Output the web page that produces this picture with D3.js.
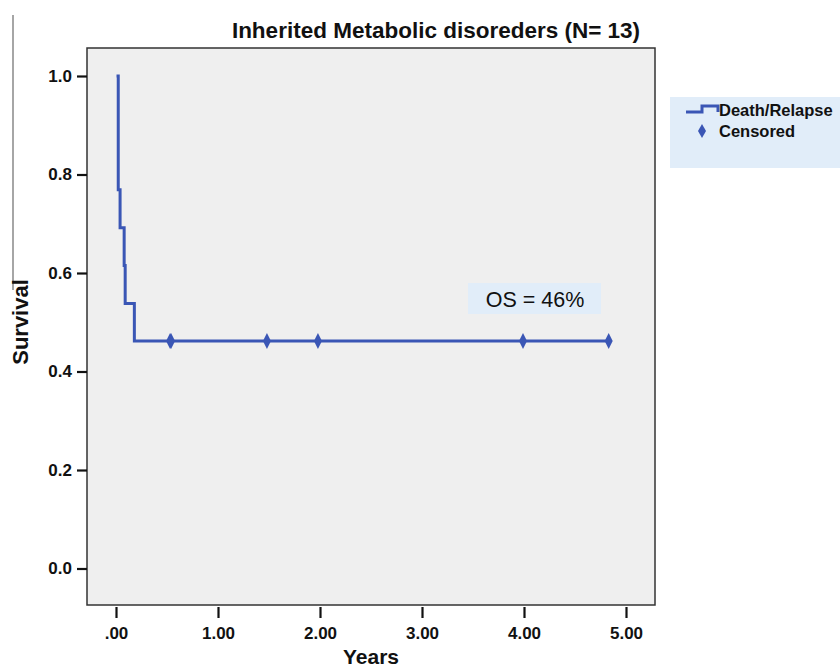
<!DOCTYPE html>
<html><head><meta charset="utf-8">
<script src="https://cdn.jsdelivr.net/npm/d3@7"></script>
<style>body{margin:0;background:#fff;} svg{display:block;font-family:"Liberation Sans",Arial,sans-serif;}</style>
</head><body>
<svg id="c" width="840" height="669"></svg>
<script>
// Kaplan-Meier steps (time in years, survival after event)
const eventTimes = [0, 0.022, 0.04, 0.08, 0.09, 0.18];
const survival   = [1.0, 0.769, 0.692, 0.615, 0.538, 0.462];
const censorTimes = [0.53, 0.54, 1.48, 1.98, 3.99, 4.83];
const xTicks = [0, 1, 2, 3, 4, 5];
const xTickLabels = [".00", "1.00", "2.00", "3.00", "4.00", "5.00"];
const yTicks = [0, 0.2, 0.4, 0.6, 0.8, 1.0];
const yTickLabels = ["0.0", "0.2", "0.4", "0.6", "0.8", "1.0"];
const titleText = "Inherited Metabolic disoreders (N= 13)";
const legendLabels = ["Death/Relapse", "Censored"];
const osLabel = "OS = 46%";

const svg = d3.select("#c");
const L = 87, R = 655, T = 48, B = 605;
const x = d3.scaleLinear().domain([0, 5]).range([116, 626]);
const y = d3.scaleLinear().domain([0, 1]).range([568.5, 76]);
const blue = "#3a56b5";
const ff = "Liberation Sans, Arial, sans-serif";

// left gray line
svg.append("line").attr("x1", 13).attr("x2", 13).attr("y1", 15).attr("y2", 290)
  .attr("stroke", "#888").attr("stroke-width", 1.5);

// plot frame
svg.append("rect").attr("x", L).attr("y", T).attr("width", R - L).attr("height", B - T)
  .attr("fill", "#efefef").attr("stroke", "#333").attr("stroke-width", 1.5);

// title
svg.append("text").attr("x", 436).attr("y", 38).attr("text-anchor", "middle")
  .attr("font-size", 22.5).attr("font-weight", "bold").attr("fill", "#111").text(titleText);

// y axis
const yAxis = d3.axisLeft(y).tickValues(yTicks).tickFormat((d, i) => yTickLabels[i]).tickSize(10).tickPadding(5);
const gy = svg.append("g").attr("transform", `translate(${L},0)`).call(yAxis);
gy.select(".domain").remove();
gy.selectAll(".tick line").attr("stroke", "#111").attr("stroke-width", 2.2);
gy.selectAll(".tick text").attr("font-size", 17).attr("font-weight", "bold").attr("fill", "#111")
  .attr("font-family", ff);

// x axis
const xAxis = d3.axisBottom(x).tickValues(xTicks).tickFormat((d, i) => xTickLabels[i]).tickSize(11).tickPadding(9);
const gx = svg.append("g").attr("transform", `translate(0,${B + 2})`).call(xAxis);
gx.select(".domain").remove();
gx.selectAll(".tick line").attr("stroke", "#111").attr("stroke-width", 2.2);
gx.selectAll(".tick text").attr("font-size", 17).attr("font-weight", "bold").attr("fill", "#111")
  .attr("font-family", ff);

// axis titles
svg.append("text").attr("x", 371).attr("y", 664).attr("text-anchor", "middle")
  .attr("font-size", 21).attr("font-weight", "bold").attr("fill", "#111").text("Years");
svg.append("text").attr("transform", "translate(28,322) rotate(-90)").attr("text-anchor", "middle")
  .attr("font-size", 22).attr("font-weight", "bold").attr("fill", "#111").text("Survival");

// KM step line
const pts = [];
const xStart = eventTimes[0] + 0.005;
pts.push([xStart, survival[0]]);
for (let i = 1; i < eventTimes.length; i++) {
  pts.push([eventTimes[i], survival[i - 1]]);
  pts.push([eventTimes[i], survival[i]]);
}
pts.push([d3.max(censorTimes), survival[survival.length - 1]]);
const line = d3.line().x(d => x(d[0])).y(d => y(d[1]));
svg.append("path").attr("d", line(pts)).attr("fill", "none").attr("stroke", blue).attr("stroke-width", 3);

// censored marks
const sAt = t => { let s = 1; eventTimes.forEach((e, i) => { if (e <= t) s = survival[i]; }); return s; };
svg.selectAll(".cens").data(censorTimes).enter().append("path").attr("class", "cens")
  .attr("d", "M0,-8 L4,0 L0,8 L-4,0 Z")
  .attr("transform", d => `translate(${x(d)},${y(sAt(d))})`).attr("fill", blue);

// OS label
svg.append("rect").attr("x", 468).attr("y", 283).attr("width", 133).attr("height", 31).attr("fill", "#e1edf9");
svg.append("text").attr("x", 535).attr("y", 307).attr("text-anchor", "middle")
  .attr("font-size", 21.5).attr("fill", "#111").text(osLabel);

// legend
svg.append("rect").attr("x", 670).attr("y", 97).attr("width", 170).attr("height", 71).attr("fill", "#e1edf9");
svg.append("path").attr("d", "M686,112 L702,112 L702,106 L718,106 L718,112").attr("fill", "none")
  .attr("stroke", blue).attr("stroke-width", 3);
svg.append("path").attr("d", "M0,-7 L4,0 L0,7 L-4,0 Z").attr("transform", "translate(702,131)").attr("fill", blue);
svg.selectAll(".lg").data(legendLabels).enter().append("text")
  .attr("x", 719).attr("y", (d, i) => 116 + i * 21).attr("font-size", 16.5).attr("font-weight", "bold")
  .attr("fill", "#111").text(d => d);
</script>
</body></html>
